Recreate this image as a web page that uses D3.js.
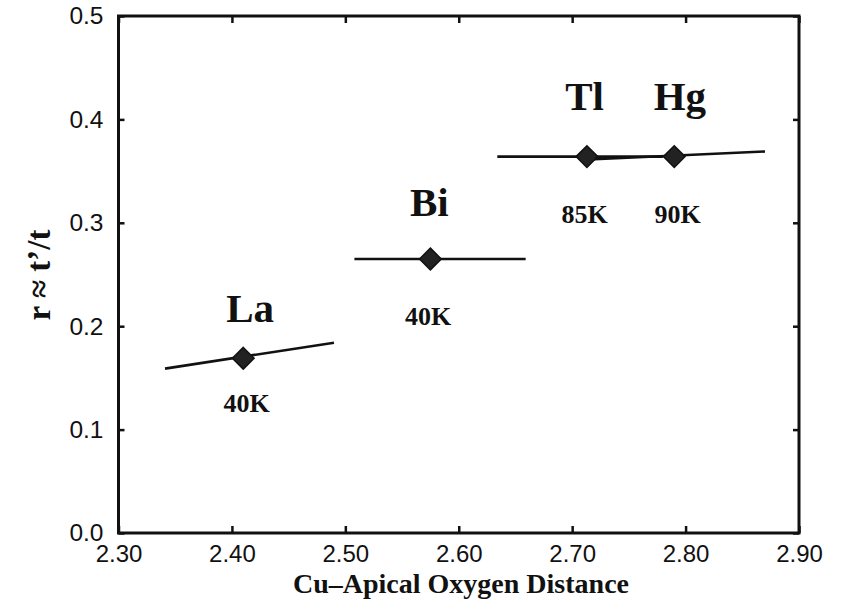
<!DOCTYPE html>
<html>
<head>
<meta charset="utf-8">
<script src="https://cdn.jsdelivr.net/npm/d3@7"></script>
<style>
  html, body { margin: 0; padding: 0; background: #fff; }
  svg { display: block; }
  .tick text { font-family: "Liberation Sans", Arial, sans-serif; fill: #111; }
  .serif { font-family: "Liberation Serif", "Times New Roman", serif; font-weight: bold; fill: #111; }
</style>
</head>
<body>
<svg id="chart" width="846" height="606"></svg>
<script>
// Cuprate families and their Cu–apical oxygen distance vs. r ≈ t'/t
const materials = ["La", "Bi", "Tl", "Hg"];
const distance  = [2.41, 2.575, 2.713, 2.79];
const ratio     = [0.169, 0.265, 0.364, 0.364];
const tcLabels  = ["40K", "40K", "85K", "90K"];

// Spread of each family: segment end points (distance, ratio)
const spanX0 = [2.341, 2.508, 2.634, 2.71];
const spanY0 = [0.159, 0.265, 0.364, 0.361];
const spanX1 = [2.49, 2.659, 2.78, 2.87];
const spanY1 = [0.184, 0.265, 0.364, 0.369];

// Annotation anchors in data units
const nameX = [2.416, 2.574, 2.711, 2.795];
const nameY = [0.204, 0.307, 0.409, 0.409];
const tcX   = [2.413, 2.573, 2.711, 2.793];
const tcY   = [0.117, 0.201, 0.300, 0.300];

const xTicks = [2.30, 2.40, 2.50, 2.60, 2.70, 2.80, 2.90];
const yTicks = [0.0, 0.1, 0.2, 0.3, 0.4, 0.5];

const svg = d3.select("#chart");
const m = { left: 118.5, right: 799, top: 16, bottom: 533 };

const x = d3.scaleLinear().domain([2.30, 2.90]).range([m.left, m.right]);
const y = d3.scaleLinear().domain([0, 0.5]).range([m.bottom, m.top]);

const ink = "#111";

// Axes with inward ticks
const gx = svg.append("g").attr("transform", `translate(0,${m.bottom})`)
  .call(d3.axisBottom(x).tickValues(xTicks).tickFormat(d3.format(".2f"))
        .tickSize(-7).tickPadding(12));
gx.selectAll("text").attr("font-size", 24);

const gy = svg.append("g").attr("transform", `translate(${m.left},0)`)
  .call(d3.axisLeft(y).tickValues(yTicks).tickFormat(d3.format(".1f"))
        .tickSize(-6).tickPadding(15));
gy.selectAll("text").attr("font-size", 24.5);

svg.append("g").attr("transform", `translate(0,${m.top})`)
  .call(d3.axisTop(x).tickValues(xTicks).tickFormat("").tickSize(-7));
svg.append("g").attr("transform", `translate(${m.right},0)`)
  .call(d3.axisRight(y).tickValues(yTicks).tickFormat("").tickSize(-6));

svg.selectAll(".domain").remove();
svg.selectAll(".tick line").attr("stroke", ink).attr("stroke-width", 2.5);

// Plot frame
svg.append("rect")
  .attr("x", m.left).attr("y", m.top)
  .attr("width", m.right - m.left).attr("height", m.bottom - m.top)
  .attr("fill", "none").attr("stroke", ink).attr("stroke-width", 3);

// Spread segments
svg.append("g").selectAll("line").data(materials).join("line")
  .attr("x1", (d, i) => x(spanX0[i])).attr("y1", (d, i) => y(spanY0[i]))
  .attr("x2", (d, i) => x(spanX1[i])).attr("y2", (d, i) => y(spanY1[i]))
  .attr("stroke", ink).attr("stroke-width", 2.6);

// Diamond markers
const diamond = d3.symbol().type(d3.symbolDiamond2).size(300);
svg.append("g").selectAll("path").data(materials).join("path")
  .attr("d", diamond)
  .attr("transform", (d, i) => `translate(${x(distance[i])},${y(ratio[i])})`)
  .attr("fill", "#222").attr("stroke", ink).attr("stroke-width", 1.5);

// Family names
svg.append("g").selectAll("text").data(materials).join("text")
  .attr("class", "serif")
  .attr("x", (d, i) => x(nameX[i])).attr("y", (d, i) => y(nameY[i]))
  .attr("text-anchor", "middle").attr("font-size", 41)
  .text(d => d);

// Transition temperatures
svg.append("g").selectAll("text").data(tcLabels).join("text")
  .attr("class", "serif")
  .attr("x", (d, i) => x(tcX[i])).attr("y", (d, i) => y(tcY[i]))
  .attr("text-anchor", "middle").attr("font-size", 26)
  .text(d => d);

// Axis titles
svg.append("text").attr("class", "serif")
  .attr("x", 461).attr("y", 593)
  .attr("text-anchor", "middle").attr("font-size", 28)
  .text("Cu–Apical Oxygen Distance");

svg.append("text").attr("class", "serif")
  .attr("transform", "translate(50,275) rotate(-90)")
  .attr("text-anchor", "middle").attr("font-size", 33)
  .text("r ≈ t’/t");
</script>
</body>
</html>
